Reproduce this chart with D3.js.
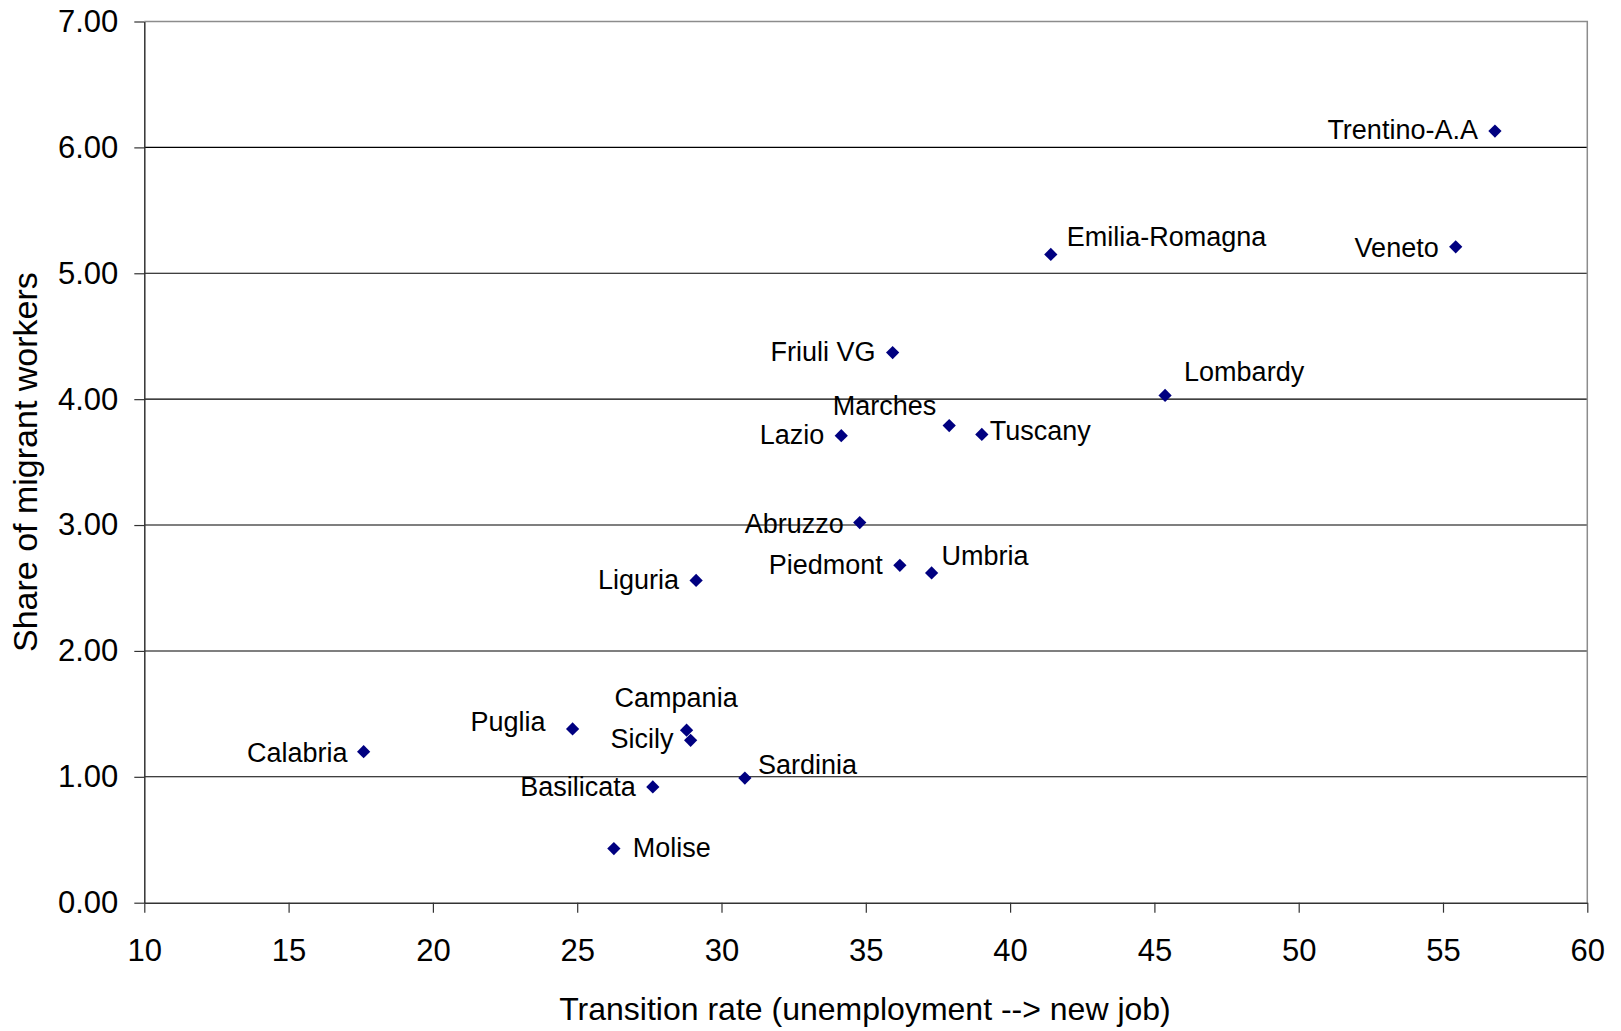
<!DOCTYPE html>
<html>
<head>
<meta charset="utf-8">
<script src="https://cdn.jsdelivr.net/npm/d3@7"></script>
<style>
  html, body { margin: 0; padding: 0; background: #fff; }
  svg { display: block; font-family: "Liberation Sans", Arial, sans-serif; }
</style>
</head>
<body>
<svg id="chart" width="1621" height="1031"></svg>
<script>
// ---- data ----
const regions = ["Trentino-A.A", "Veneto", "Emilia-Romagna", "Friuli VG", "Lombardy", "Marches",
  "Tuscany", "Lazio", "Abruzzo", "Piedmont", "Umbria", "Liguria", "Campania", "Sicily",
  "Puglia", "Calabria", "Sardinia", "Basilicata", "Molise"];
const transitionRate = [56.80, 55.44, 41.41, 35.93, 45.37, 37.89,
  39.02, 34.15, 34.79, 36.18, 37.28, 29.12, 28.79, 28.93,
  24.84, 17.60, 30.81, 27.62, 26.27];
const migrantShare = [6.13, 5.21, 5.15, 4.37, 4.03, 3.79,
  3.72, 3.71, 3.02, 2.68, 2.62, 2.56, 1.37, 1.29,
  1.38, 1.20, 0.99, 0.92, 0.43];
const xTicks = [10, 15, 20, 25, 30, 35, 40, 45, 50, 55, 60];
const yTicks = [0, 1, 2, 3, 4, 5, 6, 7];
const xTitle = "Transition rate (unemployment --> new job)";
const yTitle = "Share of migrant workers";

// label placement (layout, not data): anchor side and pixel offsets from the marker
const labelLayout = [
  ["end", -17, 8], ["end", -17, 10], ["start", 16, -8], ["end", -17, 8], ["start", 19, -14], ["end", -13, -11],
  ["start", 8, 6], ["end", -17, 8], ["end", -16, 10], ["end", -17, 9], ["start", 10, -8], ["end", -17, 9],
  ["start", -72, -23], ["end", -17, 8], ["end", -27, 2], ["end", -16, 10], ["start", 13, -4], ["end", -17, 9], ["start", 19, 8]
];

// ---- layout ----
const svg = d3.select("#chart");
const pL = 144.3, pR = 1587.3, pT = 21.5, pB = 902.7;

const x = d3.scaleLinear().domain([10, 60]).range([pL, pR]);
const y = d3.scaleLinear().domain([0, 7]).range([pB, pT]);

// gridlines
svg.append("g").selectAll("line").data(yTicks.filter(d => d > 0 && d < 7)).join("line")
  .attr("x1", pL).attr("x2", pR)
  .attr("y1", d => y(d)).attr("y2", d => y(d))
  .attr("stroke", "#000").attr("stroke-width", 1.1);

// plot border (top & right grey)
svg.append("path")
  .attr("d", `M${pL},${pT}H${pR}V${pB}`)
  .attr("fill", "none").attr("stroke", "#8c8c8c").attr("stroke-width", 1.5);

// axes
const xAxis = d3.axisBottom(x).tickValues(xTicks).tickSize(10).tickSizeOuter(0).tickPadding(26)
  .tickFormat(d3.format("d"));
const gx = svg.append("g").attr("transform", `translate(0,${pB})`).call(xAxis);
gx.select(".domain").attr("stroke", "#333").attr("stroke-width", 1.5);
gx.selectAll(".tick line").attr("stroke", "#333").attr("stroke-width", 1.2);
gx.selectAll(".tick text").attr("font-size", 31).attr("fill", "#000")
  .attr("font-family", "'Liberation Sans', Arial, sans-serif");

const yAxis = d3.axisLeft(y).tickValues(yTicks).tickSize(10).tickSizeOuter(0).tickPadding(16)
  .tickFormat(d3.format(".2f"));
const gy = svg.append("g").attr("transform", `translate(${pL},0)`).call(yAxis);
gy.select(".domain").attr("stroke", "#333").attr("stroke-width", 1.5);
gy.selectAll(".tick line").attr("stroke", "#333").attr("stroke-width", 1.2);
gy.selectAll(".tick text").attr("font-size", 31).attr("fill", "#000")
  .attr("font-family", "'Liberation Sans', Arial, sans-serif");

// axis titles
svg.append("text")
  .attr("x", 865).attr("y", 1020)
  .attr("text-anchor", "middle").attr("font-size", 32).attr("fill", "#000")
  .text(xTitle);
svg.append("text")
  .attr("transform", `translate(37,${(pT + pB) / 2}) rotate(-90)`)
  .attr("text-anchor", "middle").attr("font-size", 34).attr("fill", "#000")
  .text(yTitle);

// points
const pts = regions.map((r, i) => ({ name: r, xv: transitionRate[i], yv: migrantShare[i], lay: labelLayout[i] }));
svg.append("g").selectAll("path").data(pts).join("path")
  .attr("d", d3.symbol().type(d3.symbolDiamond2).size(112))
  .attr("transform", d => `translate(${x(d.xv)},${y(d.yv)})`)
  .attr("fill", "#000080");

// labels
svg.append("g").selectAll("text").data(pts).join("text")
  .attr("x", d => x(d.xv) + d.lay[1])
  .attr("y", d => y(d.yv) + d.lay[2])
  .attr("text-anchor", d => d.lay[0])
  .attr("font-size", 27).attr("fill", "#000")
  .text(d => d.name);
</script>
</body>
</html>
